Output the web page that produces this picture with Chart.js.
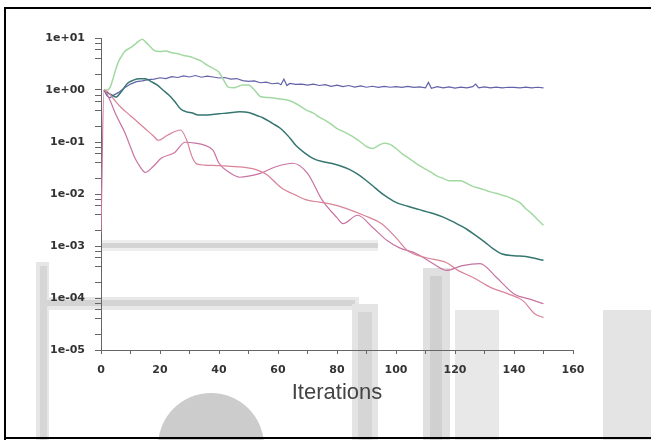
<!DOCTYPE html>
<html lang="en">
<head>
    <meta charset="UTF-8">
    <title>Residuals</title>
    <script src="https://cdn.jsdelivr.net/npm/chart.js"></script>
    <style>
        body { margin: 0; background: #fff; }
        #wrap { width: 651px; height: 440px; }
    </style>
</head>
<body>
    <div id="wrap"><canvas id="residuals" width="651" height="440"></canvas></div>
    <script>
        // axis ticks
        const xTicks = [0, 10, 20, 30, 40, 50, 60, 70, 80, 90, 100, 110, 120, 130, 140, 150, 160];
        const yExponents = [1, 0, -1, -2, -3, -4, -5];
        const yMinorMantissas = [2, 4, 6, 8];
        const xTitle = 'Iterations';

        // blue (continuity-like, stays near 1)
        const blueIter = [1, 2, 3, 4, 6, 8, 10, 12, 14, 16, 18, 20, 22, 24, 26, 28, 30, 32, 34, 36, 38, 40, 42, 44, 46, 48, 50, 52, 54, 56, 58, 60, 61, 62, 63, 64, 66, 68, 70, 72, 74, 76, 78, 80, 82, 84, 86, 88, 90, 92, 94, 96, 98, 100, 102, 104, 106, 108, 110, 111, 112, 114, 116, 118, 120, 122, 124, 126, 127, 128, 130, 132, 134, 136, 138, 140, 142, 144, 146, 148, 150];
        const blueVal = [1.0, 0.78, 0.7, 0.78, 0.9, 1.1, 1.3, 1.45, 1.5, 1.58, 1.62, 1.72, 1.65, 1.8, 1.74, 1.86, 1.78, 1.9, 1.76, 1.84, 1.78, 1.7, 1.74, 1.62, 1.66, 1.52, 1.46, 1.5, 1.38, 1.42, 1.32, 1.36, 1.26, 1.62, 1.22, 1.34, 1.28, 1.3, 1.24, 1.3, 1.22, 1.27, 1.18, 1.24, 1.16, 1.22, 1.14, 1.2, 1.13, 1.18, 1.12, 1.17, 1.13, 1.16, 1.12, 1.17, 1.12, 1.15, 1.1, 1.4, 1.08, 1.16, 1.1, 1.15, 1.09, 1.14, 1.1, 1.16, 1.3, 1.1, 1.15, 1.1, 1.14, 1.1, 1.13, 1.12, 1.1, 1.14, 1.1, 1.13, 1.1];

        // light green
        const greenIter = [1, 2, 3, 4, 5, 6, 7, 8, 10, 12, 14, 15, 16, 18, 20, 22, 24, 26, 28, 30, 32, 34, 36, 38, 40, 42, 43, 45, 48, 50, 52, 54, 56, 60, 64, 66, 68, 70, 72, 74, 76, 78, 80, 82, 84, 86, 88, 90, 92, 94, 96, 98, 100, 102, 104, 106, 108, 110, 112, 114, 116, 118, 120, 122, 124, 126, 128, 130, 132, 134, 136, 138, 140, 142, 144, 146, 148, 150];
        const greenVal = [1.0, 1.0, 1.1, 1.6, 2.5, 3.6, 4.5, 5.5, 6.5, 8, 9.5, 8.5, 7.5, 5.8, 5.5, 5.6, 5.2, 5.0, 4.6, 4.4, 4.0, 3.6, 3.0, 2.6, 2.2, 1.4, 1.15, 1.1, 1.25, 1.25, 1.0, 0.75, 0.72, 0.68, 0.62, 0.55, 0.47, 0.4, 0.36, 0.3, 0.26, 0.22, 0.18, 0.16, 0.14, 0.12, 0.1, 0.082, 0.075, 0.085, 0.095, 0.09, 0.075, 0.06, 0.05, 0.042, 0.035, 0.03, 0.026, 0.022, 0.02, 0.018, 0.018, 0.018, 0.016, 0.014, 0.013, 0.012, 0.011, 0.0103, 0.0095, 0.0088, 0.0078, 0.0068, 0.0052, 0.0042, 0.0032, 0.0025];

        // dark teal
        const tealIter = [1, 2, 4, 5, 7, 9, 11, 13, 15, 17, 19, 21, 23, 25, 27, 29, 31, 33, 36, 40, 43, 47, 50, 53, 55, 58, 61, 64, 66, 69, 72, 75, 78, 81, 84, 87, 90, 93, 96, 100, 104, 108, 112, 116, 120, 124, 127, 130, 133, 136, 140, 144, 147, 150];
        const tealVal = [1, 0.9, 0.78, 0.73, 0.95, 1.35, 1.55, 1.65, 1.65, 1.45, 1.25, 1.0, 0.8, 0.6, 0.43, 0.38, 0.36, 0.33, 0.33, 0.35, 0.36, 0.38, 0.37, 0.32, 0.29, 0.23, 0.18, 0.12, 0.087, 0.062, 0.048, 0.042, 0.039, 0.035, 0.03, 0.024, 0.018, 0.013, 0.0095, 0.0069, 0.0058, 0.005, 0.0043, 0.0036, 0.0028, 0.0021, 0.0016, 0.0012, 0.00088, 0.0007, 0.00065, 0.00063, 0.00058, 0.00053];

        // pink (the one with the deep early dip)
        const pinkAIter = [0, 1, 3, 5, 8, 10, 11.5, 13, 15, 17.5, 20.5, 25, 28.5, 32, 35, 38, 40, 43.5, 47, 50, 54, 59, 65, 70, 75, 80, 82, 87, 92, 97, 101, 107, 112.5, 117, 122.5, 128.5, 134, 140, 145, 150];
        const pinkAVal = [0.0018, 1, 0.64, 0.34, 0.155, 0.08, 0.049, 0.035, 0.026, 0.033, 0.049, 0.063, 0.099, 0.095, 0.087, 0.069, 0.039, 0.026, 0.021, 0.022, 0.025, 0.033, 0.039, 0.025, 0.0076, 0.0035, 0.0027, 0.0039, 0.0023, 0.00127, 0.00093, 0.00071, 0.00046, 0.00034, 0.00042, 0.00046, 0.00025, 0.00012, 0.000096, 0.000078];

        // pink (slower early decay)
        const pinkBIter = [1, 2.5, 5, 7, 10, 12.5, 15, 17.5, 19.5, 22.5, 27, 29, 31, 32.5, 35, 40, 44, 48, 52, 56, 61, 66, 70, 74, 78, 83, 89, 95, 100, 104, 110, 117, 121, 126, 132, 138, 143, 147, 150];
        const pinkBVal = [1, 0.9, 0.6, 0.45, 0.32, 0.24, 0.18, 0.135, 0.108, 0.135, 0.17, 0.11, 0.05, 0.038, 0.036, 0.035, 0.034, 0.033, 0.03, 0.024, 0.0134, 0.0095, 0.0076, 0.007, 0.0064, 0.0053, 0.0039, 0.0027, 0.00145, 0.00081, 0.0006, 0.00048, 0.00034, 0.00025, 0.00016, 0.00012, 0.000089, 0.00005, 0.000042];

        function pts(iter, vals) {
            return iter.map((x, i) => ({ x: x, y: vals[i] }));
        }

        function expLabel(e) {
            const a = Math.abs(e);
            return '1e' + (e < 0 ? '-' : '+') + (a < 10 ? '0' + a : a);
        }

        // faint grey scan watermark behind the plot + the black frame of the figure
        const pagePlugin = {
            id: 'page',
            beforeDraw(chart) {
                const c = chart.ctx;
                c.save();
                c.fillStyle = '#ffffff';
                c.fillRect(0, 0, chart.width, chart.height);
                // left vertical bar
                c.fillStyle = '#e6e6e6';
                c.fillRect(36, 262, 13, 178);
                c.fillStyle = '#d6d6d6';
                c.fillRect(40, 266, 7, 174);
                // upper horizontal bar
                c.fillStyle = '#eeeeee';
                c.fillRect(101, 240, 277, 11);
                c.fillStyle = '#d4d4d4';
                c.fillRect(101, 243, 277, 5);
                // lower horizontal bar with its corner
                c.fillStyle = '#e8e8e8';
                c.fillRect(47, 297, 312, 13);
                c.fillStyle = '#d4d4d4';
                c.fillRect(47, 300, 308, 6);
                c.fillStyle = '#e4e4e4';
                c.fillRect(352, 304, 26, 136);
                c.fillStyle = '#d6d6d6';
                c.fillRect(358, 312, 14, 128);
                // right columns
                c.fillStyle = '#e0e0e0';
                c.fillRect(423, 268, 27, 172);
                c.fillStyle = '#d0d0d0';
                c.fillRect(430, 276, 12, 164);
                c.fillStyle = '#e8e8e8';
                c.fillRect(455, 310, 44, 130);
                c.fillStyle = '#e4e4e4';
                c.fillRect(603, 310, 48, 130);
                // disc at the bottom
                c.fillStyle = '#cccccc';
                c.beginPath();
                c.arc(211, 446, 53, 0, Math.PI * 2);
                c.fill();
                c.restore();
            },
            afterDraw(chart) {
                const c = chart.ctx;
                c.save();
                c.fillStyle = '#000';
                c.fillRect(4, 7, 647, 2);
                c.fillRect(4, 7, 2, 433);
                c.fillRect(4, 437, 647, 2);
                c.restore();
            }
        };

        const tickFont = { family: 'DejaVu Sans', size: 11, weight: 'bold' };

        new Chart(document.getElementById('residuals'), {
            type: 'line',
            data: {
                datasets: [
                    { data: pts(pinkBIter, pinkBVal), borderColor: '#d98399', borderWidth: 1.2, cubicInterpolationMode: 'monotone' },
                    { data: pts(pinkAIter, pinkAVal), borderColor: '#c874a2', borderWidth: 1.2, cubicInterpolationMode: 'monotone' },
                    { data: pts(greenIter, greenVal), borderColor: '#a2d9a2', borderWidth: 1.5, cubicInterpolationMode: 'monotone' },
                    { data: pts(tealIter, tealVal), borderColor: '#357670', borderWidth: 1.5, cubicInterpolationMode: 'monotone' },
                    { data: pts(blueIter, blueVal), borderColor: '#6262a8', borderWidth: 1.2, tension: 0 }
                ]
            },
            options: {
                responsive: false,
                devicePixelRatio: 1,
                animation: false,
                elements: { point: { radius: 0 } },
                layout: { padding: { top: 38, right: 78, bottom: 0, left: 0 } },
                plugins: {
                    legend: { display: false },
                    tooltip: { enabled: false }
                },
                scales: {
                    x: {
                        type: 'linear',
                        min: xTicks[0],
                        max: xTicks[xTicks.length - 1],
                        afterFit(scale) { scale.height = 90; },
                        afterBuildTicks(scale) { scale.ticks = xTicks.map(v => ({ value: v })); },
                        border: { color: '#666', width: 1 },
                        grid: { drawOnChartArea: false, drawTicks: true, tickLength: 4, tickColor: '#666' },
                        ticks: {
                            autoSkip: false,
                            maxRotation: 0,
                            padding: 10,
                            color: '#333',
                            font: tickFont,
                            callback: v => (v % 20 === 0 ? String(v) : '')
                        },
                        title: {
                            display: true,
                            text: xTitle,
                            color: '#444',
                            font: { family: 'Liberation Sans', size: 22 },
                            padding: { top: 0, bottom: 34 }
                        }
                    },
                    y: {
                        type: 'logarithmic',
                        min: Math.pow(10, yExponents[yExponents.length - 1]),
                        max: Math.pow(10, yExponents[0]),
                        afterFit(scale) { scale.width = 101; },
                        afterBuildTicks(scale) {
                            const t = [];
                            yExponents.forEach(e => {
                                t.push({ value: Math.pow(10, e), major: true });
                                if (e < yExponents[0]) {
                                    yMinorMantissas.forEach(m => t.push({ value: m * Math.pow(10, e) }));
                                }
                            });
                            scale.ticks = t.sort((a, b) => a.value - b.value);
                        },
                        border: { color: '#666', width: 1 },
                        grid: { drawOnChartArea: false, drawTicks: true, tickLength: 6, tickColor: '#666' },
                        ticks: {
                            autoSkip: false,
                            padding: 10,
                            color: '#333',
                            font: tickFont,
                            callback: v => {
                                const e = Math.round(Math.log10(v));
                                return Math.abs(Math.log10(v) - e) < 1e-6 ? expLabel(e) : '';
                            }
                        }
                    }
                }
            },
            plugins: [pagePlugin]
        });
    </script>
</body>
</html>
